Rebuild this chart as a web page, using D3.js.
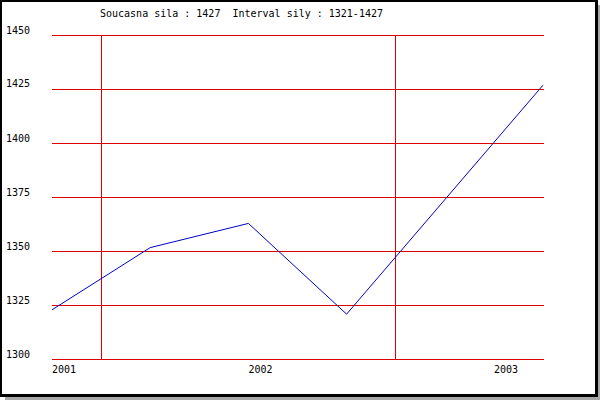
<!DOCTYPE html>
<html>
<head>
<meta charset="utf-8">
<script src="https://cdn.jsdelivr.net/npm/d3@7"></script>
<style>
  html, body { margin: 0; padding: 0; background: #fff; }
  svg { display: block; }
  text { font-family: "DejaVu Sans Mono", monospace; font-size: 10px; fill: #000; }
</style>
</head>
<body>
<svg id="chart" width="600" height="400"></svg>
<script>
// ---- data ----
const titleText = "Soucasna sila : 1427  Interval sily : 1321-1427";
const periods = [0, 1, 2, 3, 5];               // measurement positions (period index)
const ratings = [1323, 1351.8, 1363, 1321, 1427];
const yTicks = [1300, 1325, 1350, 1375, 1400, 1425, 1450];
const yearLabels = ["2001", "2002", "2003"];
const yearPositions = [0, 2, 4.5];
const yearDividers = [0.5, 3.5];

// ---- drawing ----
const svg = d3.select("#chart");

// frame with shadow
svg.append("rect").attr("x", 5).attr("y", 5).attr("width", 595).attr("height", 395).attr("fill", "#a8a8a8");
svg.append("rect").attr("x", 0).attr("y", 0).attr("width", 598).attr("height", 397).attr("fill", "#000");
svg.append("rect").attr("x", 2).attr("y", 2).attr("width", 593).attr("height", 392).attr("fill", "#fff");

const x = d3.scaleLinear().domain([0, 5]).range([52, 543]);
const y = d3.scaleLinear().domain([1300, 1450]).range([359.5, 35.5]);
const snap = v => Math.round(v - 0.5) + 0.5;

const grid = svg.append("g").attr("shape-rendering", "crispEdges");
grid.selectAll("line.h").data(yTicks).enter().append("line")
  .attr("x1", x(0)).attr("x2", x(5) + 1)
  .attr("y1", d => snap(y(d))).attr("y2", d => snap(y(d)))
  .attr("stroke", "#dd0000").attr("stroke-width", 1);
grid.selectAll("line.v").data(yearDividers).enter().append("line")
  .attr("x1", d => snap(x(d))).attr("x2", d => snap(x(d)))
  .attr("y1", y(1450)).attr("y2", y(1300))
  .attr("stroke", "#dd0000").attr("stroke-width", 1);

// y labels
svg.selectAll("text.yl").data(yTicks).enter().append("text")
  .attr("x", 6).attr("y", d => Math.round(y(d)) - 2.5)
  .text(d => d);

// x labels
svg.selectAll("text.xl").data(yearLabels).enter().append("text")
  .attr("x", (d, i) => x(yearPositions[i])).attr("y", 373)
  .text(d => d);

// title
svg.append("text").attr("x", 100).attr("y", 17).attr("xml:space", "preserve")
  .style("white-space", "pre").text(titleText);

// line
const pts = periods.map((p, i) => [p, ratings[i]]);
svg.append("path")
  .datum(pts)
  .attr("fill", "none")
  .attr("stroke", "#0000cc")
  .attr("stroke-width", 1)
  .attr("d", d3.line().x(d => x(d[0])).y(d => y(d[1])));
</script>
</body>
</html>
